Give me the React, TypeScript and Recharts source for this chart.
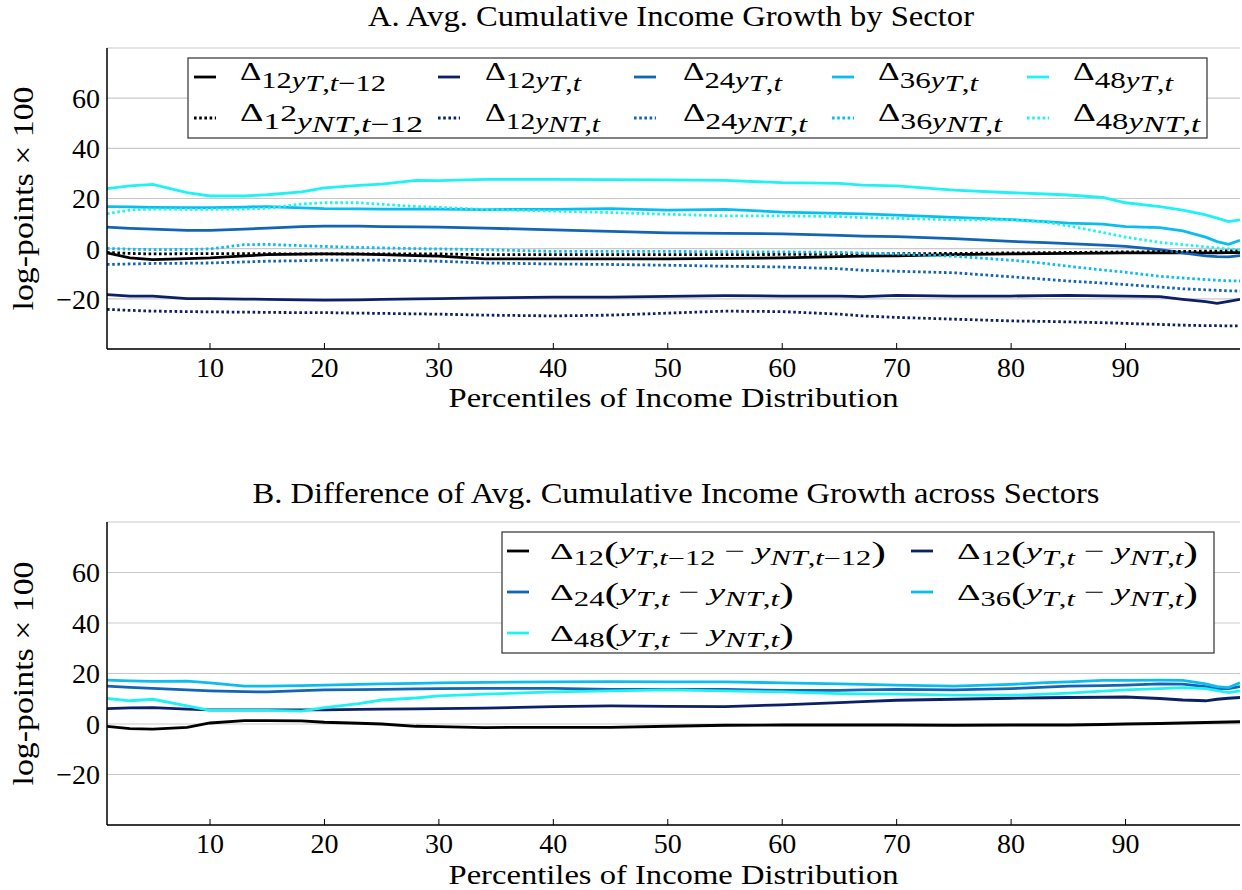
import React from 'react';
import { LineChart, Line, XAxis, YAxis, CartesianGrid } from 'recharts';

// percentile grid the curves were read at
const pct = [1, 3, 5, 8, 10, 13, 15, 18, 20, 23, 25, 28, 30, 34, 40, 45, 50, 55, 60, 65, 67, 70, 75, 80, 83, 85, 88, 90, 93, 95, 97, 98, 99, 100];

// Panel A: tradable (solid) and non-tradable (dotted) sectors
const gT12lag = [-1.7, -3.7, -4.4, -4.0, -3.7, -2.9, -2.4, -2.2, -2.1, -2.2, -2.4, -2.8, -3.0, -4.1, -4.1, -4.1, -4.1, -3.9, -3.7, -3.2, -3.0, -2.9, -2.4, -2.1, -2.0, -1.9, -1.8, -1.7, -1.7, -1.7, -1.7, -1.7, -1.6, -1.6];
const gT12 = [-18.3, -18.9, -18.9, -19.9, -19.9, -20.1, -20.2, -20.4, -20.5, -20.4, -20.2, -20.0, -19.9, -19.6, -19.3, -19.3, -19.0, -18.7, -18.9, -18.9, -19.1, -18.6, -18.9, -18.9, -18.7, -18.6, -18.8, -18.9, -19.1, -20.2, -21.1, -21.8, -21.0, -20.2];
const gT24 = [8.6, 8.1, 7.8, 7.3, 7.3, 7.8, 8.2, 8.8, 9.0, 9.0, 8.8, 8.7, 8.6, 8.2, 7.5, 6.9, 6.3, 6.1, 5.9, 5.3, 5.0, 4.8, 4.0, 2.9, 2.4, 2.0, 1.4, 0.9, -0.4, -1.7, -2.9, -3.2, -3.3, -2.8];
const gT36 = [16.8, 16.7, 16.5, 16.4, 16.4, 16.6, 16.8, 16.3, 16.0, 15.9, 15.8, 15.8, 15.8, 15.6, 15.7, 16.0, 15.4, 15.7, 14.6, 14.1, 13.9, 13.4, 12.5, 11.6, 10.8, 10.2, 9.8, 8.8, 8.4, 7.1, 4.6, 2.8, 1.7, 3.3];
const gT48 = [23.9, 25.0, 25.6, 22.3, 21.0, 21.0, 21.5, 22.6, 24.2, 25.2, 25.7, 27.2, 27.1, 27.6, 27.6, 27.5, 27.4, 27.2, 26.3, 26.0, 25.3, 25.0, 23.3, 22.3, 21.8, 21.4, 20.4, 18.3, 16.8, 15.4, 13.5, 12.2, 10.8, 11.5];
const gNT12lag = [-1.5, -1.9, -2.1, -2.0, -2.0, -2.0, -2.0, -2.1, -2.1, -2.1, -2.1, -2.1, -2.1, -2.4, -2.4, -2.4, -2.4, -2.4, -2.3, -2.2, -2.1, -2.0, -1.9, -1.7, -1.6, -1.5, -1.4, -1.3, -1.2, -1.1, -1.0, -1.0, -0.9, -0.9];
const gNT12 = [-24.2, -24.6, -24.9, -25.1, -25.2, -25.3, -25.4, -25.5, -25.5, -25.7, -25.8, -26.0, -26.1, -26.5, -26.8, -26.5, -25.7, -24.9, -25.1, -26.1, -26.8, -27.4, -28.1, -28.8, -29.0, -29.2, -29.5, -29.8, -30.2, -30.5, -30.7, -30.7, -30.8, -30.8];
const gNT24 = [-6.3, -6.1, -5.9, -5.8, -5.7, -5.3, -5.0, -4.8, -4.6, -4.6, -4.6, -4.8, -5.0, -5.7, -6.1, -6.3, -6.6, -7.0, -7.3, -8.0, -8.6, -9.0, -9.6, -11.2, -12.2, -12.9, -13.7, -14.3, -15.3, -16.0, -16.4, -16.6, -16.8, -16.9];
const gNT36 = [0.1, -0.2, -0.4, -0.3, -0.1, 1.6, 1.7, 1.2, 0.9, 0.5, 0.3, 0.0, -0.1, -0.4, -1.1, -1.1, -1.1, -1.2, -1.3, -1.5, -1.7, -2.1, -3.0, -4.6, -5.9, -7.0, -8.5, -9.4, -11.0, -11.7, -12.3, -12.6, -12.8, -12.9];
const gNT48 = [13.9, 15.4, 15.8, 15.7, 15.7, 15.8, 16.1, 17.8, 18.3, 18.3, 17.7, 16.8, 16.5, 15.6, 15.0, 14.4, 13.7, 13.1, 13.1, 12.8, 12.4, 12.1, 11.5, 11.5, 10.6, 9.1, 6.5, 4.6, 2.5, 1.6, 0.7, 0.3, -0.1, -0.4];

// Panel B: T minus NT differences
const dLag = [-0.9, -1.8, -2.0, -1.3, 0.4, 1.3, 1.3, 1.2, 0.7, 0.3, 0.0, -0.9, -1.0, -1.4, -1.3, -1.3, -0.9, -0.5, -0.4, -0.4, -0.4, -0.4, -0.5, -0.4, -0.4, -0.4, -0.2, 0.0, 0.2, 0.4, 0.6, 0.7, 0.8, 0.9];
const d12 = [6.1, 6.4, 6.5, 5.9, 5.6, 5.6, 5.6, 5.6, 5.6, 5.8, 5.9, 6.0, 6.1, 6.3, 6.9, 7.2, 7.0, 6.9, 7.6, 8.5, 8.9, 9.4, 9.8, 10.2, 10.4, 10.5, 10.6, 10.7, 10.1, 9.5, 9.2, 9.8, 10.2, 10.5];
const d24 = [15.0, 14.5, 14.1, 13.5, 13.1, 12.8, 12.7, 13.2, 13.5, 13.6, 13.7, 13.9, 14.0, 14.1, 14.1, 13.7, 13.7, 13.7, 13.3, 13.3, 13.5, 13.7, 13.5, 14.0, 14.6, 15.0, 15.2, 15.4, 15.9, 15.8, 14.8, 14.0, 14.0, 14.8];
const d36 = [17.4, 17.1, 16.9, 17.0, 16.3, 15.0, 15.0, 15.2, 15.4, 15.7, 15.9, 16.1, 16.3, 16.5, 16.7, 16.8, 16.7, 16.7, 16.3, 15.9, 15.7, 15.4, 15.0, 15.7, 16.4, 16.7, 17.3, 17.3, 17.4, 17.3, 15.9, 14.8, 14.4, 16.3];
const d48 = [10.1, 9.2, 9.8, 7.2, 5.4, 5.4, 5.4, 5.1, 6.5, 8.1, 9.5, 10.3, 11.1, 11.8, 12.7, 13.1, 13.5, 13.1, 12.7, 12.0, 11.9, 11.8, 11.4, 11.4, 11.8, 12.2, 13.0, 13.5, 14.0, 14.4, 14.0, 13.2, 12.4, 13.1];

const xTicks = [10, 20, 30, 40, 50, 60, 70, 80, 90];
const yTicks = [-20, 0, 20, 40, 60];

const FONT = '"Liberation Serif", "Times New Roman", serif';
const BLACK = '#000000';
const NAVY = '#0c2068';
const MID = '#1265b5';
const SKY = '#0bbcf0';
const CYAN = '#1ef2f5';

const dataA = pct.map((p, i) => ({
  p,
  tLag: gT12lag[i], t12: gT12[i], t24: gT24[i], t36: gT36[i], t48: gT48[i],
  nLag: gNT12lag[i], n12: gNT12[i], n24: gNT24[i], n36: gNT36[i], n48: gNT48[i],
}));

const dataB = pct.map((p, i) => ({ p, lag: dLag[i], d12: d12[i], d24: d24[i], d36: d36[i], d48: d48[i] }));

type S = { key: string; color: string; dotted?: boolean };

// pgfplots order: T rows first, then NT
const seriesA: S[] = [
  { key: 'tLag', color: BLACK },
  { key: 't12', color: NAVY },
  { key: 't24', color: MID },
  { key: 't36', color: SKY },
  { key: 't48', color: CYAN },
  { key: 'nLag', color: BLACK, dotted: true },
  { key: 'n12', color: NAVY, dotted: true },
  { key: 'n24', color: MID, dotted: true },
  { key: 'n36', color: SKY, dotted: true },
  { key: 'n48', color: CYAN, dotted: true },
];

const seriesB: S[] = [
  { key: 'lag', color: BLACK },
  { key: 'd12', color: NAVY },
  { key: 'd24', color: MID },
  { key: 'd36', color: SKY },
  { key: 'd48', color: CYAN },
];

const DOTS = '2.6 2.6';
const fmtY = (v: number) => (v < 0 ? `\u2212${-v}` : `${v}`);
const tickStyle = { fontFamily: FONT, fontSize: 28, fill: '#000' };

const Panel = ({ data, series, marginTop, marginBottom }: { data: any[]; series: S[]; marginTop: number; marginBottom: number }) => (
  <LineChart width={1242} height={445} data={data} margin={{ top: marginTop, right: 2, bottom: marginBottom, left: 47 }}>
    <CartesianGrid vertical={false} stroke="#c9c9c9" strokeWidth={1.2} />
    <XAxis
      dataKey="p"
      type="number"
      domain={[1, 100]}
      ticks={xTicks}
      allowDataOverflow
      height={40}
      tickSize={-6}
      tickMargin={14}
      tickLine={{ stroke: '#000' }}
      axisLine={{ stroke: '#000', strokeWidth: 1.5 }}
      tick={tickStyle}
    />
    <XAxis
      xAxisId="top"
      orientation="top"
      dataKey="p"
      type="number"
      domain={[1, 100]}
      ticks={xTicks}
      allowDataOverflow
      height={0}
      tick={false}
      tickSize={-6}
      tickLine={{ stroke: '#000' }}
      axisLine={{ stroke: '#000', strokeWidth: 1.5 }}
    />
    <YAxis
      type="number"
      domain={[-40, 80]}
      ticks={yTicks}
      allowDataOverflow
      width={60}
      tickSize={0}
      tickMargin={7}
      tickLine={false}
      tickFormatter={fmtY}
      axisLine={{ stroke: '#000', strokeWidth: 1.5 }}
      tick={tickStyle}
    />
    <YAxis
      yAxisId="r"
      orientation="right"
      type="number"
      domain={[-40, 80]}
      width={0}
      tick={false}
      tickLine={false}
      axisLine={{ stroke: '#000', strokeWidth: 1.5 }}
    />
    {series.map((s) => (
      <Line
        key={s.key}
        dataKey={s.key}
        type="linear"
        stroke={s.color}
        strokeWidth={2.8}
        strokeDasharray={s.dotted ? DOTS : undefined}
        dot={false}
        isAnimationActive={false}
      />
    ))}
  </LineChart>
);

type Seg = { t: string; i?: boolean; s?: number; f?: number };

const MathText = ({ x, y, w, size, segs }: { x: number; y: number; w: number; size: number; segs: Seg[] }) => {
  let cur = 0;
  return (
    <text x={x} y={y} fontFamily={FONT} fontSize={size} fill="#000" textLength={w} lengthAdjust="spacingAndGlyphs">
      {segs.map((sg, k) => {
        const s = sg.s || 0;
        const dy = s - cur;
        cur = s;
        return (
          <tspan key={k} dy={dy} fontStyle={sg.i ? 'italic' : 'normal'} fontSize={sg.f}>
            {sg.t}
          </tspan>
        );
      })}
    </text>
  );
};

const L = 8; // lowered baseline in panel A legend
const subA = (idx: string, sec: string, lag: boolean, odd?: boolean): Seg[] => [
  { t: '\u0394', f: 25 },
  ...(odd ? [{ t: '1', s: L }, { t: '2' }, { t: 'y', i: true, s: L }] : [{ t: idx, s: L }, { t: 'y', i: true, s: L }]),
  { t: sec, i: true, s: L + 3 },
  { t: ',', s: L + 3 },
  { t: 't', i: true, s: L + 3 },
  ...(lag ? [{ t: '\u221212', s: L + 3 }] : []),
];

const legendA = [
  { color: BLACK, dotted: false, segs: subA('12', 'T', true), w: 146 },
  { color: NAVY, dotted: false, segs: subA('12', 'T', false), w: 96 },
  { color: MID, dotted: false, segs: subA('24', 'T', false), w: 99 },
  { color: SKY, dotted: false, segs: subA('36', 'T', false), w: 100 },
  { color: CYAN, dotted: false, segs: subA('48', 'T', false), w: 100 },
  { color: BLACK, dotted: true, segs: subA('12', 'NT', true, true), w: 183 },
  { color: NAVY, dotted: true, segs: subA('12', 'NT', false), w: 115 },
  { color: MID, dotted: true, segs: subA('24', 'NT', false), w: 124 },
  { color: SKY, dotted: true, segs: subA('36', 'NT', false), w: 124 },
  { color: CYAN, dotted: true, segs: subA('48', 'NT', false), w: 127 },
];
const legA_sx = [194, 438, 634, 832, 1027];
const legA_tx = [240, 485, 683, 878, 1073];
const legA_y = [77, 118];

const B = 6;
const diffB = (idx: string, lag: boolean): Seg[] => {
  const tail = lag ? '\u221212' : '';
  return [
    { t: '\u0394' },
    { t: idx, s: B, f: 20 },
    { t: '(', s: 3, f: 29 },
    { t: 'y', i: true },
    { t: 'T', i: true, s: B, f: 20 },
    { t: ',', s: B, f: 20 },
    { t: 't', i: true, s: B, f: 20 },
    ...(lag ? [{ t: tail, s: B, f: 20 }] : []),
    { t: ' \u2212 ' },
    { t: 'y', i: true },
    { t: 'NT', i: true, s: B, f: 20 },
    { t: ',', s: B, f: 20 },
    { t: 't', i: true, s: B, f: 20 },
    ...(lag ? [{ t: tail, s: B, f: 20 }] : []),
    { t: ')', s: 3, f: 29 },
  ];
};

const legendB = [
  { color: BLACK, segs: diffB('12', true), w: 336, col: 0, row: 0 },
  { color: NAVY, segs: diffB('12', false), w: 241, col: 1, row: 0 },
  { color: MID, segs: diffB('24', false), w: 244, col: 0, row: 1 },
  { color: SKY, segs: diffB('36', false), w: 241, col: 1, row: 1 },
  { color: CYAN, segs: diffB('48', false), w: 244, col: 0, row: 2 },
];
const legB_sx = [507, 911];
const legB_tx = [550, 957];
const legB_y = [551, 592, 633];

const Overlay = () => (
  <svg width={1242} height={890} style={{ position: 'absolute', left: 0, top: 0, pointerEvents: 'none' }}>
    <g fontFamily={FONT} fill="#000">
      <text x={671} y={26} fontSize={29} textAnchor="middle" textLength={606} lengthAdjust="spacingAndGlyphs">
        A. Avg. Cumulative Income Growth by Sector
      </text>
      <text x={676} y={503} fontSize={29} textAnchor="middle" textLength={847} lengthAdjust="spacingAndGlyphs">
        B. Difference of Avg. Cumulative Income Growth across Sectors
      </text>
      <text x={673.5} y={407} fontSize={28} textAnchor="middle" textLength={450} lengthAdjust="spacingAndGlyphs">
        Percentiles of Income Distribution
      </text>
      <text x={673.5} y={884} fontSize={28} textAnchor="middle" textLength={450} lengthAdjust="spacingAndGlyphs">
        Percentiles of Income Distribution
      </text>
      <text transform="translate(33, 198.5) rotate(-90)" fontSize={29} textAnchor="middle" textLength={224} lengthAdjust="spacingAndGlyphs">
        log-points {'\u00d7'} 100
      </text>
      <text transform="translate(33, 673.5) rotate(-90)" fontSize={29} textAnchor="middle" textLength={224} lengthAdjust="spacingAndGlyphs">
        log-points {'\u00d7'} 100
      </text>
    </g>

    <rect x={188} y={58} width={1019} height={80} fill="#fff" stroke="#404040" strokeWidth={1.3} />
    {legendA.map((e, k) => {
      const col = k % 5;
      const row = Math.floor(k / 5);
      const sy = legA_y[row];
      return (
        <g key={k}>
          <line x1={legA_sx[col]} x2={legA_sx[col] + 22} y1={sy} y2={sy} stroke={e.color} strokeWidth={2.8} strokeDasharray={e.dotted ? DOTS : undefined} />
          <MathText x={legA_tx[col]} y={sy + 3} w={e.w} size={23} segs={e.segs} />
        </g>
      );
    })}

    <rect x={502} y={532} width={712} height={121} fill="#fff" stroke="#404040" strokeWidth={1.3} />
    {legendB.map((e, k) => {
      const sy = legB_y[e.row];
      return (
        <g key={k}>
          <line x1={legB_sx[e.col]} x2={legB_sx[e.col] + 22} y1={sy} y2={sy} stroke={e.color} strokeWidth={2.8} />
          <MathText x={legB_tx[e.col]} y={sy + 8} w={e.w} size={24} segs={e.segs} />
        </g>
      );
    })}
  </svg>
);

export default function App() {
  return (
    <div style={{ position: 'absolute', left: 0, top: 0, width: 1242, height: 890, background: '#fff' }}>
      <div style={{ position: 'absolute', left: 0, top: 0 }}>
        <Panel data={dataA} series={seriesA} marginTop={48} marginBottom={56} />
      </div>
      <div style={{ position: 'absolute', left: 0, top: 445 }}>
        <Panel data={dataB} series={seriesB} marginTop={77} marginBottom={25} />
      </div>
      <Overlay />
    </div>
  );
}
